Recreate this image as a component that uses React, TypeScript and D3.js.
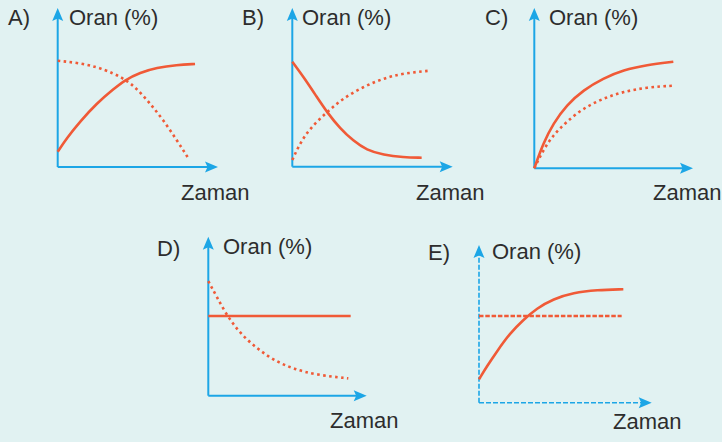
import * as d3 from 'd3';

// Curves: [time, oran] in a 0..10 frame per panel
const aSolid: [number, number][] = [
  [0, 1.09], [0.64, 2.05], [1.59, 3.24], [2.79, 4.55], [3.97, 5.55],
  [4.81, 6.21], [5.88, 6.74], [7.07, 7.09], [8.5, 7.29], [9.81, 7.36],
];
const aDotted: [number, number][] = [
  [0, 7.59], [1.36, 7.45], [2.79, 7.16], [3.97, 6.69], [4.81, 6.26],
  [5.64, 5.62], [6.59, 4.55], [7.54, 3.36], [8.5, 1.93], [9.29, 0.69],
];
const bSolid: [number, number][] = [
  [0, 7.5], [0.79, 6.43], [1.74, 5.0], [2.5, 3.86], [3.41, 2.74],
  [4.36, 1.84], [5.31, 1.19], [6.5, 0.84], [7.93, 0.67], [9.24, 0.64],
];
const bDotted: [number, number][] = [
  [0, 0.48], [0.55, 1.67], [1.26, 2.74], [2.5, 3.93], [3.64, 4.89],
  [5.07, 5.71], [6.5, 6.31], [7.93, 6.67], [9.84, 6.86],
];
const cSolid: [number, number][] = [
  [0, 0], [0.64, 1.79], [1.36, 3.21], [2.31, 4.52], [3.5, 5.59],
  [4.93, 6.43], [6.36, 7.02], [8.03, 7.38], [9.93, 7.61],
];
const cDotted: [number, number][] = [
  [0, 0], [0.64, 1.31], [1.36, 2.38], [2.31, 3.33], [3.5, 4.29],
  [4.93, 5.0], [6.36, 5.47], [8.03, 5.79], [9.93, 5.9],
];
const dSolid: [number, number][] = [[0, 5.69], [10.17, 5.69]];
const dDotted: [number, number][] = [
  [0, 8.19], [0.6, 7.07], [1.31, 5.76], [2.26, 4.46], [3.46, 3.39],
  [4.64, 2.55], [6.07, 1.91], [7.74, 1.48], [10.0, 1.24],
];
const eSolid: [number, number][] = [
  [0, 1.67], [0.55, 2.57], [1.26, 3.64], [2.21, 4.96], [3.16, 5.91],
  [4.12, 6.74], [5.31, 7.41], [6.74, 7.86], [8.41, 8.05], [10.31, 8.1],
];
const eDashed: [number, number][] = [[0, 6.19], [10.19, 6.19]];

const letters = ['A)', 'B)', 'C)', 'D)', 'E)'];
const yTitle = 'Oran (%)';
const xTitle = 'Zaman';

const BG = '#e1f2f2';
const BLUE = '#1ca6e6';
const ORANGE = '#f05a37';
const TEXT = '#2d2d2d';

// panel layout: origin, axis tips, label spots
const panels = [
  { ox: 57.7, oy: 167, xTip: 218, yTip: 8, letter: [8, 25], oran: [69, 25], zaman: [181, 200],
    solid: aSolid, other: aDotted, otherStyle: 'dot', dashedAxes: false },
  { ox: 292.3, oy: 166.7, xTip: 452.7, yTip: 8, letter: [242, 25], oran: [302, 25], zaman: [416, 200],
    solid: bSolid, other: bDotted, otherStyle: 'dot', dashedAxes: false },
  { ox: 534.3, oy: 168.3, xTip: 693, yTip: 8, letter: [485, 25], oran: [549, 25], zaman: [653, 200],
    solid: cSolid, other: cDotted, otherStyle: 'dot', dashedAxes: false },
  { ox: 208.3, oy: 395.7, xTip: 366.7, yTip: 236.7, letter: [157, 256], oran: [223, 254], zaman: [330, 428],
    solid: dSolid, other: dDotted, otherStyle: 'dot', dashedAxes: false },
  { ox: 479, oy: 402.7, xTip: 651.7, yTip: 245, letter: [428, 260], oran: [492, 259], zaman: [613, 429],
    solid: eSolid, other: eDashed, otherStyle: 'dash', dashedAxes: true },
];

const W = 722;
const H = 442;
const SPAN = 140;

export default function App() {
  return (
    <div style={{ position: 'absolute', left: 0, top: 0 }}>
      <svg width={W} height={H} style={{ display: 'block', fontFamily: '"Liberation Sans", Arial, sans-serif' }}>
        <rect width={W} height={H} fill={BG} />
        {panels.map((p, i) => {
          const x = d3.scaleLinear().domain([0, 10]).range([p.ox, p.ox + SPAN]);
          const y = d3.scaleLinear().domain([0, 10]).range([p.oy, p.oy - SPAN]);
          // B-spline smooths out the small wobbles of hand-read points
          const line = d3.line<[number, number]>()
            .x(d => x(d[0]))
            .y(d => y(d[1]))
            .curve(d3.curveBasis);
          const axisDash = p.dashedAxes ? '5 2' : undefined;
          const otherDash = p.otherStyle === 'dot' ? '2.6 3.4' : '4.5 1.8';
          return (
            <g key={i}>
              {/* axes */}
              <line x1={p.ox} y1={p.oy} x2={p.ox} y2={p.yTip + 10} stroke={BLUE} strokeWidth={p.dashedAxes ? 1.6 : 2} strokeDasharray={axisDash} />
              <line x1={p.ox} y1={p.oy} x2={p.xTip - 10} y2={p.oy} stroke={BLUE} strokeWidth={p.dashedAxes ? 1.6 : 2} strokeDasharray={axisDash} />
              <path
                d={`M${p.ox},${p.yTip} L${p.ox + 5.5},${p.yTip + 13} L${p.ox},${p.yTip + 10.5} L${p.ox - 5.5},${p.yTip + 13} Z`}
                fill={BLUE}
              />
              <path
                d={`M${p.xTip},${p.oy} L${p.xTip - 13},${p.oy - 5.5} L${p.xTip - 10.5},${p.oy} L${p.xTip - 13},${p.oy + 5.5} Z`}
                fill={BLUE}
              />
              {/* curves */}
              <path d={line(p.other) ?? ''} fill="none" stroke={ORANGE} strokeWidth={2.6} strokeDasharray={otherDash} />
              <path d={line(p.solid) ?? ''} fill="none" stroke={ORANGE} strokeWidth={2.6} />
              {/* labels */}
              <text x={p.letter[0]} y={p.letter[1]} fontSize={22} fill={TEXT}>{letters[i]}</text>
              <text x={p.oran[0]} y={p.oran[1]} fontSize={22} fill={TEXT}>{yTitle}</text>
              <text x={p.zaman[0]} y={p.zaman[1]} fontSize={22} fill={TEXT}>{xTitle}</text>
            </g>
          );
        })}
      </svg>
    </div>
  );
}
